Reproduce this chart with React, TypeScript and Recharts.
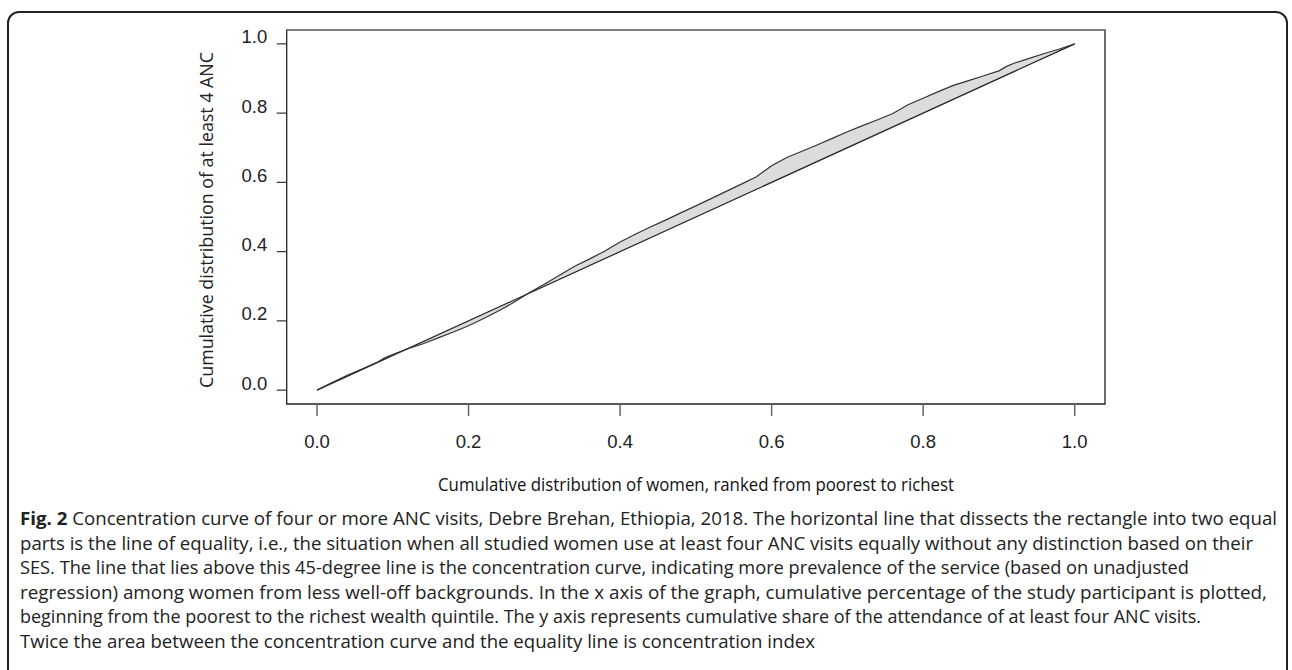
import React from "react";
import {
  ComposedChart,
  Area,
  Line,
  XAxis,
  YAxis,
  ReferenceLine,
  ReferenceArea,
} from "recharts";

// Cumulative share of women (ranked poorest -> richest)
const womenShare = [
  0.0, 0.02, 0.04, 0.06, 0.08, 0.09, 0.1, 0.12, 0.14, 0.16, 0.18, 0.2, 0.22,
  0.24, 0.26, 0.28, 0.3, 0.32, 0.34, 0.36, 0.38, 0.4, 0.42, 0.44, 0.46, 0.48,
  0.5, 0.52, 0.54, 0.56, 0.58, 0.6, 0.62, 0.64, 0.66, 0.68, 0.7, 0.72, 0.74,
  0.76, 0.78, 0.8, 0.82, 0.84, 0.86, 0.88, 0.9, 0.91, 0.92, 0.94, 0.96, 0.98,
  1.0,
];
// Cumulative share of at least 4 ANC visits (concentration curve)
const ancShare = [
  0.0, 0.022, 0.043, 0.062, 0.081, 0.094, 0.103, 0.12, 0.134, 0.151, 0.168,
  0.186, 0.207, 0.229, 0.254, 0.281, 0.306, 0.332, 0.358, 0.379, 0.402, 0.428,
  0.45, 0.471, 0.491, 0.512, 0.532, 0.553, 0.574, 0.595, 0.616, 0.648, 0.672,
  0.69, 0.708, 0.727, 0.746, 0.764, 0.781, 0.799, 0.824, 0.843, 0.862, 0.88,
  0.894, 0.908, 0.922, 0.935, 0.944, 0.958, 0.972, 0.985, 1.0,
];
// Line of equality end points
const equalityStart = { x: 0, y: 0 };
const equalityEnd = { x: 1, y: 1 };

const xTicks = [0, 0.2, 0.4, 0.6, 0.8, 1.0];
const xTickLabels = ["0.0", "0.2", "0.4", "0.6", "0.8", "1.0"];
const yTicks = [0, 0.2, 0.4, 0.6, 0.8, 1.0];
const yTickLabels = ["0.0", "0.2", "0.4", "0.6", "0.8", "1.0"];

const xTitle = "Cumulative distribution of women, ranked from poorest to richest";
const yTitle = "Cumulative distribution of at least 4 ANC";

const captionBold = "Fig. 2";
const captionLines = [
  " Concentration curve of four or more ANC visits, Debre Brehan, Ethiopia, 2018. The horizontal line that dissects the rectangle into two equal",
  "parts is the line of equality, i.e., the situation when all studied women use at least four ANC visits equally without any distinction based on their",
  "SES. The line that lies above this 45-degree line is the concentration curve, indicating more prevalence of the service (based on unadjusted",
  "regression) among women from less well-off backgrounds. In the x axis of the graph, cumulative percentage of the study participant is plotted,",
  "beginning from the poorest to the richest wealth quintile. The y axis represents cumulative share of the attendance of at least four ANC visits.",
  "Twice the area between the concentration curve and the equality line is concentration index",
];
const captionLineEnds = [1277, 1253, 1189, 1267, 1201, 815];

const data = womenShare.map((x, i) => ({
  x,
  curve: ancShare[i],
  band: [x, ancShare[i]],
}));

const DOMAIN: [number, number] = [-0.04, 1.04];

const fmt = (list: number[], labels: string[]) => (v: number) => {
  const i = list.findIndex((t) => Math.abs(t - v) < 1e-9);
  return i >= 0 ? labels[i] : String(v);
};
const fmtX = fmt(xTicks, xTickLabels);
const fmtY = fmt(yTicks, yTickLabels);

const tickFont = "'Liberation Sans', Arial, sans-serif";

const XTick = (props: any) => {
  const { x, y, payload } = props;
  return (
    <text
      x={x}
      y={y + 32}
      textAnchor="middle"
      fontFamily={tickFont}
      fontSize={18.5}
      fill="#222"
    >
      {fmtX(payload.value)}
    </text>
  );
};

const YTick = (props: any) => {
  const { x, y, payload } = props;
  return (
    <text
      x={x - 9.5}
      y={y - 0.5}
      textAnchor="end"
      fontFamily={tickFont}
      fontSize={18.5}
      fill="#222"
    >
      {fmtY(payload.value)}
    </text>
  );
};

export default function App() {
  const W = 1292;
  const H = 670;
  const plotLeft = 286.7;
  const plotTop = 30;
  const plotRight = 1105;
  const plotBottom = 404;
  const axisX = 60;
  const axisY = 60;
  const captionFont = "'Open Sans', 'Noto Sans', sans-serif";
  const lineY0 = 525;
  const lineGap = 24.6;
  return (
    <div
      style={{
        position: "absolute",
        left: 0,
        top: 0,
        width: W,
        height: H,
        overflow: "hidden",
        background: "#fff",
      }}
    >
      <div style={{ position: "absolute", left: 0, top: 0 }}>
        <ComposedChart
          width={W}
          height={H}
          data={data}
          margin={{
            top: plotTop,
            left: plotLeft - axisY,
            right: W - plotRight,
            bottom: H - plotBottom - axisX,
          }}
        >
          <XAxis
            type="number"
            dataKey="x"
            domain={DOMAIN}
            ticks={xTicks}
            allowDataOverflow
            height={axisX}
            axisLine={false}
            tickSize={12}
            tickMargin={0}
            tickLine={{ stroke: "#666", strokeWidth: 1.5 }}
            tick={XTick}
            interval={0}
          />
          <YAxis
            type="number"
            domain={DOMAIN}
            ticks={yTicks}
            allowDataOverflow
            width={axisY}
            axisLine={false}
            tickSize={10}
            tickMargin={0}
            tickLine={{ stroke: "#333", strokeWidth: 1.2 }}
            tick={YTick}
            interval={0}
          />
          <ReferenceArea
            x1={DOMAIN[0]}
            x2={DOMAIN[1]}
            y1={DOMAIN[0]}
            y2={DOMAIN[1]}
            fill="none"
            stroke="#222"
            strokeWidth={1.3}
            ifOverflow="visible"
          />
          <ReferenceLine
            segment={[
              { x: DOMAIN[0], y: DOMAIN[1] },
              { x: DOMAIN[1], y: DOMAIN[1] },
            ]}
            stroke="#888"
            strokeWidth={1.6}
            ifOverflow="visible"
          />
          <Area
            type="linear"
            dataKey="band"
            fill="#dcdcdc"
            fillOpacity={1}
            stroke="none"
            isAnimationActive={false}
            dot={false}
            activeDot={false}
          />
          <ReferenceLine
            segment={[equalityStart, equalityEnd]}
            stroke="#222"
            strokeWidth={1.2}
          />
          <Line
            type="linear"
            dataKey="curve"
            stroke="#333"
            strokeWidth={1.2}
            dot={false}
            activeDot={false}
            isAnimationActive={false}
          />
        </ComposedChart>
      </div>
      <svg
        width={W}
        height={H}
        style={{ position: "absolute", left: 0, top: 0, pointerEvents: "none" }}
      >
        <rect
          x={8}
          y={12}
          width={1279}
          height={720}
          rx={11}
          ry={11}
          fill="none"
          stroke="#222"
          strokeWidth={2}
        />
        <text
          transform={`translate(213, 220) rotate(-90)`}
          textAnchor="middle"
          fontFamily={captionFont}
          fontSize={18}
          fill="#222"
          textLength={336}
          lengthAdjust="spacingAndGlyphs"
        >
          {yTitle}
        </text>
        <text
          x={696}
          y={491}
          textAnchor="middle"
          fontFamily={captionFont}
          fontSize={17.5}
          fill="#111"
          textLength={516}
          lengthAdjust="spacingAndGlyphs"
        >
          {xTitle}
        </text>
        {captionLines.map((line, i) => (
          <text
            key={i}
            x={20}
            y={lineY0 + i * lineGap}
            fontFamily={captionFont}
            fontSize={18}
            fill="#222"
            textLength={captionLineEnds[i] - 20}
            lengthAdjust="spacingAndGlyphs"
          >
            {i === 0 ? (
              <>
                <tspan fontWeight="bold">{captionBold}</tspan>
                <tspan>{line}</tspan>
              </>
            ) : (
              line
            )}
          </text>
        ))}
      </svg>
    </div>
  );
}
